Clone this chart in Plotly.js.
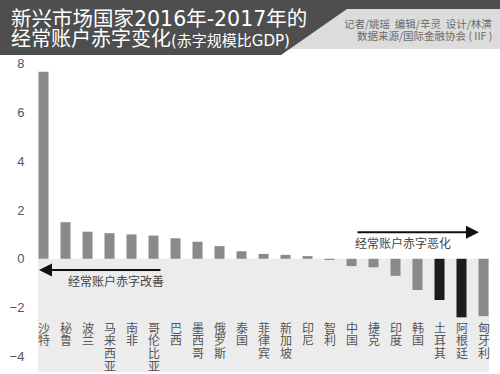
<!DOCTYPE html>
<html>
<head>
<meta charset="utf-8">
<script src="https://cdn.plot.ly/plotly-3.0.1.min.js"></script>
<style>html,body{margin:0;padding:0;background:#fff;}#chart{width:500px;height:374px;}</style>
</head>
<body>
<div id="chart"></div>
<script>
// ---- data ----
const categories = ['沙特','秘鲁','波兰','马来西亚','南非','哥伦比亚','巴西','墨西哥','俄罗斯','泰国','菲律宾','新加坡','印尼','智利','中国','捷克','印度','韩国','土耳其','阿根廷','匈牙利'];
const deficitChange = [7.67,1.50,1.11,1.05,1.00,0.95,0.84,0.70,0.52,0.31,0.20,0.16,0.11,-0.05,-0.30,-0.35,-0.70,-1.28,-1.69,-2.40,-2.35];
const highlighted = ['土耳其','阿根廷'];
const yTickVals = [-4,-2,0,2,4,6,8];
const titleLine1 = '新兴市场国家2016年-2017年的';
const titleLine2 = '经常账户赤字变化';
const titleSub = '(赤字规模比GDP)';
const creditLine1 = '记者/姚瑶  编辑/辛灵  设计/林潢';
const creditLine2 = '数据来源/国际金融协会 ( IIF )';
const improveLabel = '经常账户赤字改善';
const worsenLabel = '经常账户赤字恶化';

// ---- layout geometry ----
const W = 500, H = 374;
const M = {l:38, r:11, t:57, b:2};
const yRange = [-4.64, 8.27];
const xRange = [-0.25, categories.length - 0.75];
const pw = W - M.l - M.r, ph = H - M.t - M.b;
const xp = px => (px - M.l) / pw;
const yp = py => (H - M.b - py) / ph;

const CJK = '"Noto Sans CJK SC", "Noto Sans", sans-serif';
const TITLE_FONT = '"DejaVu Sans", "Noto Sans CJK SC", sans-serif';

const barColors = categories.map(c => highlighted.includes(c) ? '#1c1c1c' : '#8a8a8a');

const trace = {
  type: 'bar',
  x: categories.map((c,i)=>i),
  y: deficitChange,
  marker: {color: barColors, line: {width: 0}},
  hoverinfo: 'skip'
};

const annotations = [];
// vertical category labels, one character per line
categories.forEach((c, i) => {
  Array.from(c).forEach((ch, j) => {
    annotations.push({
      xref: 'x', yref: 'paper', x: i, y: yp(327.2), yshift: -12.7 * j,
      text: ch, showarrow: false, xanchor: 'center', yanchor: 'middle',
      font: {family: CJK, size: 12, color: '#555'}
    });
  });
});

// arrows
annotations.push({
  xref: 'paper', yref: 'paper', x: xp(39), y: yp(270), ax: 123, ay: 0,
  text: '', showarrow: true, arrowhead: 2, arrowsize: 1.3, arrowwidth: 2, arrowcolor: '#111', standoff: 0
});
annotations.push({
  xref: 'paper', yref: 'paper', x: xp(115.5), y: yp(280.7), text: improveLabel, showarrow: false,
  xanchor: 'center', yanchor: 'middle', font: {family: CJK, size: 12, color: '#444'}
});
annotations.push({
  xref: 'paper', yref: 'paper', x: xp(479), y: yp(232.3), ax: -123, ay: 0,
  text: '', showarrow: true, arrowhead: 2, arrowsize: 1.3, arrowwidth: 2, arrowcolor: '#111', standoff: 0
});
annotations.push({
  xref: 'paper', yref: 'paper', x: xp(402.5), y: yp(242.7), text: worsenLabel, showarrow: false,
  xanchor: 'center', yanchor: 'middle', font: {family: CJK, size: 12, color: '#444'}
});

// title block
annotations.push({
  xref: 'paper', yref: 'paper', x: xp(9), y: yp(18.5), text: titleLine1, showarrow: false,
  xanchor: 'left', yanchor: 'middle', font: {family: TITLE_FONT, size: 20.5, color: '#fff'}
});
annotations.push({
  xref: 'paper', yref: 'paper', x: xp(9), y: yp(39.5),
  text: titleLine2 + '<span style="font-size:15px">' + titleSub + '</span>', showarrow: false,
  xanchor: 'left', yanchor: 'middle', font: {family: TITLE_FONT, size: 20, color: '#fff'}
});
annotations.push({
  xref: 'paper', yref: 'paper', x: xp(494), y: yp(23.3), text: creditLine1, showarrow: false,
  xanchor: 'right', yanchor: 'middle', font: {family: CJK, size: 10.5, color: '#6a6a6a'}
});
annotations.push({
  xref: 'paper', yref: 'paper', x: xp(494), y: yp(35.7), text: creditLine2, showarrow: false,
  xanchor: 'right', yanchor: 'middle', font: {family: CJK, size: 10.5, color: '#6a6a6a'}
});

const P = (x, y) => xp(x).toFixed(5) + ',' + yp(y).toFixed(5);
const shapes = [
  // negative area background
  {type: 'rect', xref: 'paper', yref: 'y', x0: 0, x1: 1, y0: 0, y1: yRange[0],
   fillcolor: '#ececec', line: {width: 0}, layer: 'below'},
  // light credits panel
  {type: 'rect', xref: 'paper', yref: 'paper', x0: xp(250), x1: xp(500), y0: yp(49), y1: yp(9),
   fillcolor: '#dcdcdc', line: {width: 0}, layer: 'below'},
  // dark title banner
  {type: 'path', xref: 'paper', yref: 'paper',
   path: 'M' + P(0,0) + 'L' + P(500,0) + 'L' + P(500,9) + 'L' + P(347,9) + 'L' + P(281,55) + 'L' + P(0,55) + 'Z',
   fillcolor: '#4e4e4e', line: {width: 0}, layer: 'below'}
];

const layout = {
  width: W, height: H,
  margin: M,
  paper_bgcolor: '#fff', plot_bgcolor: 'rgba(0,0,0,0)',
  showlegend: false,
  bargap: 0.545,
  xaxis: {range: xRange, showticklabels: false, showgrid: false, zeroline: false, showline: false, ticks: ''},
  yaxis: {range: yRange, tickvals: yTickVals, showgrid: false, zeroline: false, showline: false,
          ticks: 'outside', ticklen: 0, ticklabelstandoff: 10,
          tickfont: {family: '"Liberation Sans", Arial, sans-serif', size: 13, color: '#555'}},
  shapes: shapes,
  annotations: annotations
};

Plotly.newPlot('chart', [trace], layout, {displayModeBar: false, staticPlot: true});
</script>
</body>
</html>
